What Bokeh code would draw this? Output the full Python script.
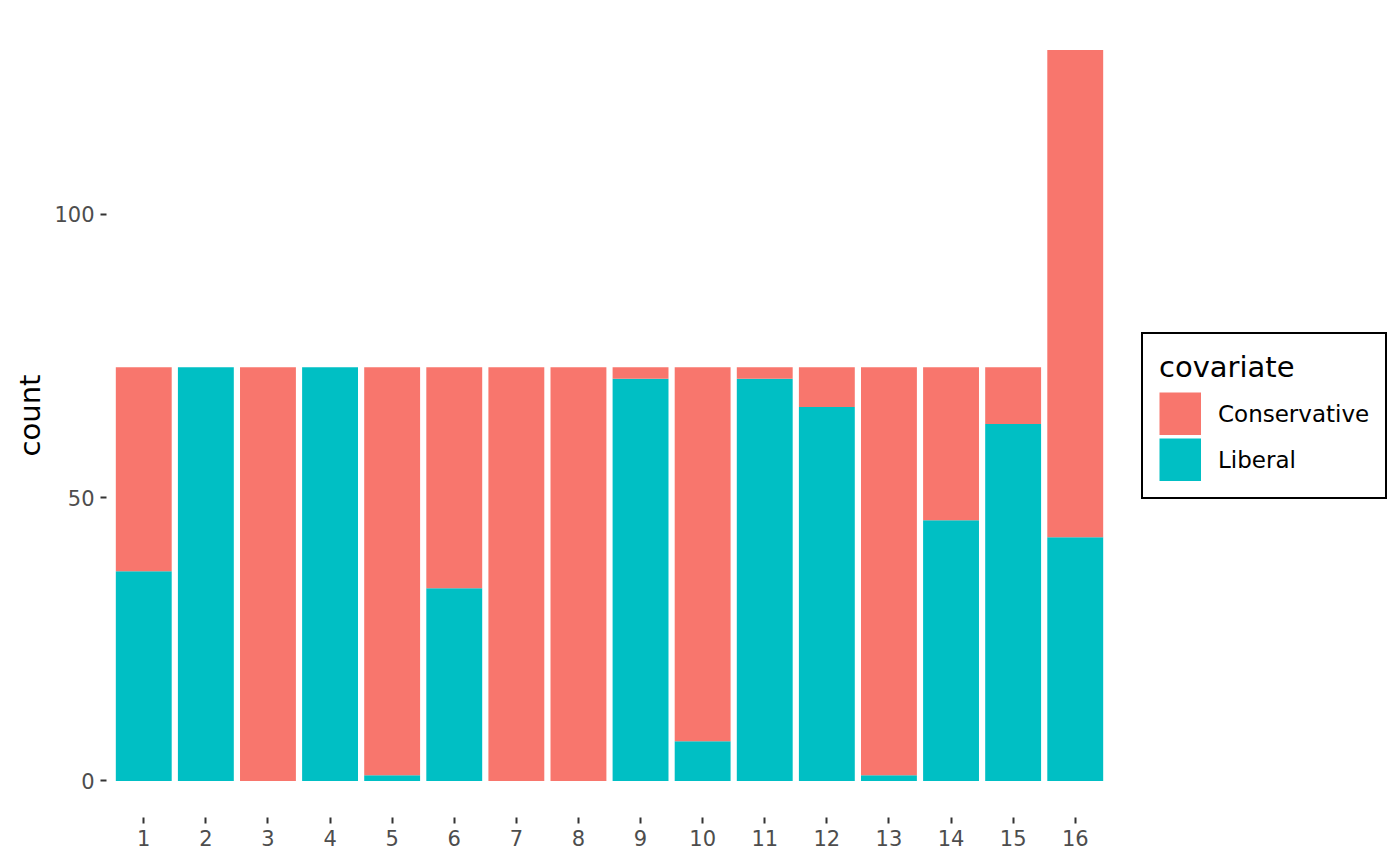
from bokeh.plotting import figure
from bokeh.models import Range1d, FixedTicker, Legend, LegendItem, ColumnDataSource
from bokeh.embed import file_html
from bokeh.resources import INLINE

groups = [str(i) for i in range(1, 17)]
x_pos = list(range(1, 17))
liberal = [37, 73, 0, 73, 1, 34, 0, 0, 71, 7, 71, 66, 1, 46, 63, 43]
conservative = [36, 0, 73, 0, 72, 39, 73, 73, 2, 66, 2, 7, 72, 27, 10, 86]
series = ["Liberal", "Conservative"]
colors = {"Conservative": "#F8766D", "Liberal": "#00BFC4"}
y_ticks = [0, 50, 100]

source = ColumnDataSource(dict(x=x_pos, Liberal=liberal, Conservative=conservative))

FONT = "DejaVu Sans"

# panel of bars spans 0.4..16.6 over 1006 px; frame is extended right to hold the legend
FRAME_W = 1286
x_end = 0.4 + FRAME_W * 16.2 / 1006

p = figure(frame_width=FRAME_W, frame_height=804, output_backend="svg", toolbar_location=None,
           x_range=Range1d(0.4, x_end), y_range=Range1d(-6.45, 135.45),
           min_border_left=106, min_border_top=13, min_border_bottom=41, min_border_right=0)

rs = p.vbar_stack(series, x="x", width=0.9, source=source,
                  color=[colors[s] for s in series], line_color=None)

# legend keys: thick butt-capped lines (kept off-screen) give full-size filled squares
key_renderers = {}
for s in ["Conservative", "Liberal"]:
    key_renderers[s] = p.line(x=[-50, -49], y=[-500, -500], line_width=43,
                              line_color=colors[s], line_cap="butt")

p.xgrid.visible = False
p.ygrid.visible = False
p.outline_line_color = None
p.background_fill_color = "white"
p.border_fill_color = "white"

for ax in (p.xaxis[0], p.yaxis[0]):
    ax.axis_line_color = None
    ax.minor_tick_line_color = None
    ax.major_tick_in = 0
    ax.major_tick_out = 6
    ax.major_tick_line_color = "#333333"
    ax.major_tick_line_width = 2
    ax.major_label_text_font = FONT
    ax.major_label_text_font_size = "21px"
    ax.major_label_text_color = "#4D4D4D"
    ax.major_label_standoff = 6

p.xaxis[0].ticker = FixedTicker(ticks=x_pos)
p.xaxis[0].major_label_overrides = {x: g for x, g in zip(x_pos, groups)}
p.yaxis[0].ticker = FixedTicker(ticks=y_ticks)
p.yaxis[0].axis_label = "count"
p.yaxis[0].axis_label_text_font = FONT
p.yaxis[0].axis_label_text_font_size = "29px"
p.yaxis[0].axis_label_text_font_style = "normal"
p.yaxis[0].axis_label_text_color = "black"
p.yaxis[0].axis_label_standoff = 4

legend = Legend(items=[LegendItem(label="Conservative", renderers=[key_renderers["Conservative"]]),
                       LegendItem(label="Liberal", renderers=[key_renderers["Liberal"]])],
                location=(1035, 318), title="covariate")
legend.title_text_font = FONT
legend.title_text_font_size = "29px"
legend.title_text_font_style = "normal"
legend.title_text_color = "black"
legend.title_standoff = 8
legend.label_text_font = FONT
legend.label_text_font_size = "23px"
legend.label_text_color = "black"
legend.glyph_width = 42
legend.glyph_height = 43
legend.spacing = 3
legend.label_standoff = 17
legend.padding = 16
legend.margin = 0
legend.border_line_color = "black"
legend.border_line_alpha = 1
legend.border_line_width = 2
legend.background_fill_color = "white"
legend.background_fill_alpha = 1
legend.click_policy = "none"
p.add_layout(legend, "center")

open("out.html", "w").write(file_html(p, INLINE))
